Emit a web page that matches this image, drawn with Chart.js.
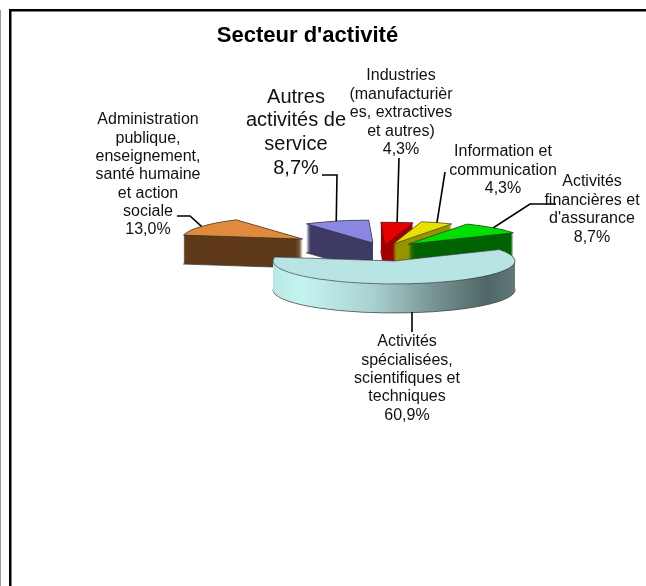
<!DOCTYPE html>
<html lang="fr">
<head>
<meta charset="utf-8">
<title>Secteur d'activité</title>
<style>html,body{margin:0;padding:0;background:#fff}canvas{display:block}</style>
<script src="https://cdn.jsdelivr.net/npm/chart.js@4"></script>
</head>
<body>
<canvas id="c" width="646" height="586"></canvas>
<script>
const chartTitle = "Secteur d'activité";
const categories = [
  "Industries (manufacturières, extractives et autres)",
  "Information et communication",
  "Activités financières et d'assurance",
  "Activités spécialisées, scientifiques et techniques",
  "Administration publique, enseignement, santé humaine et action sociale",
  "Autres activités de service"
];
const values = [4.3, 4.3, 8.7, 60.9, 13.0, 8.7];
const valueLabels = ["4,3%", "4,3%", "8,7%", "60,9%", "13,0%", "8,7%"];
const labelLines = [
  ["Industries", "(manufacturièr", "es, extractives", "et autres)"],
  ["Information et", "communication"],
  ["Activités", "financières et", "d'assurance"],
  ["Activités", "spécialisées,", "scientifiques et", "techniques"],
  ["Administration", "publique,", "enseignement,", "santé humaine", "et action", "sociale"],
  ["Autres", "activités de", "service"]
];
const explode = [20, 28, 36, 64, 96, 33];
const topColors = ["#e60000", "#e8e000", "#00e000", "#b8e4e4", "#e08a3c", "#8a88e0"];
const sideColors = ["#a00000", "#9a9400", "#006400", null, "#5f3a1a", "#3f3b66"];

/* layout of the annotations: x, first line y, size, line height, leader elbow */
const labelBoxes = [
  {x: 401, y: 76,  size: 16, lh: 18.4, from: [[399, 158]]},
  {x: 503, y: 152, size: 16, lh: 18.4, from: [[445, 172]]},
  {x: 592, y: 182, size: 16, lh: 18.4, from: [[556, 204], [530, 204]]},
  {x: 407, y: 342, size: 16, lh: 18.3, from: [[412, 332]], to: [412, 312]},
  {x: 148, y: 120, size: 16, lh: 18.3, from: [[177, 216], [190, 216]]},
  {x: 296, y: 97,  size: 20, lh: 23.7, from: [[322, 175], [337, 175]]}
];
const squash = 0.19, depth = 29;

const geom = (a, chart) => {
  const cy = (chart.chartArea.top + chart.chartArea.bottom) / 2;
  return {x: a.x, y: cy + (a.y - cy) * squash,
          r: a.outerRadius, s: a.startAngle, e: a.endAngle,
          mid: (a.startAngle + a.endAngle) / 2};
};
const slicePath = (ctx, g, dy) => {
  ctx.beginPath();
  ctx.moveTo(g.x, g.y + dy);
  ctx.ellipse(g.x, g.y + dy, g.r, g.r * squash, 0, g.s, g.e);
  ctx.closePath();
};

const pie3d = {
  id: 'pie3d',
  afterDatasetsUpdate(chart) {
    /* pull the slices apart along their mid angle */
    const area = chart.chartArea;
    const cx = (area.left + area.right) / 2, cy = (area.top + area.bottom) / 2;
    chart.getDatasetMeta(0).data.forEach((a, i) => {
      const mid = (a.startAngle + a.endAngle) / 2;
      a.x = cx + Math.cos(mid) * explode[i];
      a.y = cy + Math.sin(mid) * explode[i];
    });
  },
  beforeDatasetDraw(chart, args) {
    const ctx = chart.ctx, arcs = args.meta.data;
    /* frame and title */
    ctx.save();
    ctx.fillStyle = '#000';
    ctx.fillRect(9, 9, 637, 2.5);
    ctx.fillRect(9, 9, 2.5, 577);
    ctx.fillStyle = '#9a9a9a';
    ctx.fillRect(0, 10, 1, 576);
    ctx.fillStyle = '#000';
    ctx.font = 'bold 22px "Liberation Sans"';
    ctx.textAlign = 'center';
    ctx.textBaseline = 'middle';
    ctx.fillText(chartTitle, 307.5, 36);
    ctx.restore();
    /* side walls, painted back to front, the big slice last */
    const order = [4, 5, 0, 1, 2, 3];
    order.forEach(i => {
      const g = geom(arcs[i], chart);
      let fill = sideColors[i];
      if (!fill) {
        fill = ctx.createLinearGradient(272, 0, 516, 0);
        fill.addColorStop(0, '#b8e6e4');
        fill.addColorStop(0.12, '#c4f4f0');
        fill.addColorStop(0.42, '#a8d0d0');
        fill.addColorStop(0.65, '#7a9696');
        fill.addColorStop(0.88, '#4e6666');
        fill.addColorStop(1, '#627a7a');
      }
      ctx.save();
      ctx.fillStyle = fill;
      ctx.strokeStyle = 'rgba(60,60,60,0.75)';
      ctx.lineWidth = 1;
      slicePath(ctx, g, depth);
      ctx.fill();
      ctx.stroke();
      for (let t = depth - 1; t >= 0; t--) {
        slicePath(ctx, g, t);
        ctx.fill();
      }
      ctx.restore();
    });
    /* the library paints the top faces under this flattening */
    const area = chart.chartArea, cy = (area.top + area.bottom) / 2;
    ctx.save();
    ctx.translate(0, cy);
    ctx.scale(1, squash);
    ctx.translate(0, -cy);
  },
  afterDatasetDraw(chart, args) {
    const ctx = chart.ctx, arcs = args.meta.data;
    ctx.restore();
    ctx.save();
    /* top face outlines */
    ctx.strokeStyle = 'rgba(40,40,40,0.75)';
    ctx.lineWidth = 0.8;
    arcs.forEach(a => { slicePath(ctx, geom(a, chart), 0); ctx.stroke(); });
    /* leaders */
    ctx.strokeStyle = '#000';
    ctx.lineWidth = 1.6;
    arcs.forEach((a, i) => {
      const g = geom(a, chart), box = labelBoxes[i];
      const ex = box.to ? box.to[0] : g.x + Math.cos(g.mid) * g.r;
      const ey = box.to ? box.to[1] : g.y + Math.sin(g.mid) * g.r * squash;
      ctx.beginPath();
      box.from.forEach((p, k) => k ? ctx.lineTo(p[0], p[1]) : ctx.moveTo(p[0], p[1]));
      ctx.lineTo(ex, ey);
      ctx.stroke();
    });
    /* labels */
    ctx.fillStyle = '#111';
    ctx.textAlign = 'center';
    ctx.textBaseline = 'middle';
    arcs.forEach((a, i) => {
      const box = labelBoxes[i];
      ctx.font = box.size + 'px "Liberation Sans"';
      labelLines[i].concat(valueLabels[i]).forEach((t, k) => {
        ctx.fillText(t, box.x, box.y + k * box.lh);
      });
    });
    ctx.restore();
  }
};

new Chart(document.getElementById('c'), {
  type: 'pie',
  data: {
    labels: categories,
    datasets: [{
      data: values,
      backgroundColor: topColors,
      borderWidth: 0,
      hoverOffset: 0,
      clip: false
    }]
  },
  options: {
    responsive: false,
    animation: false,
    events: [],
    rotation: -2,
    radius: 121,
    layout: {padding: {left: 120, right: 0, top: 0, bottom: 88}},
    plugins: {legend: {display: false}, title: {display: false}, tooltip: {enabled: false}}
  },
  plugins: [pie3d]
});
</script>
</body>
</html>
